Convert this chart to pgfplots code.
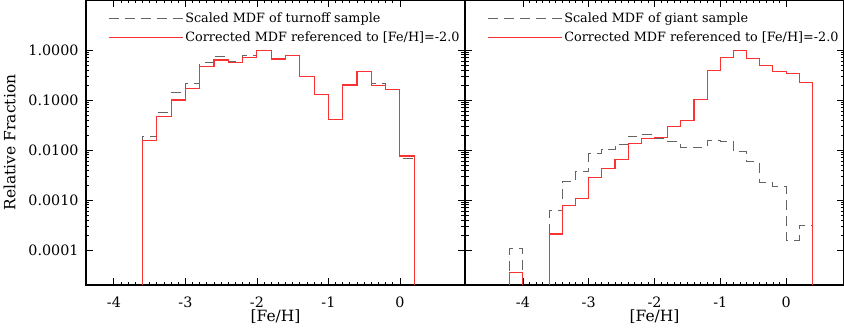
\documentclass[border=0pt]{standalone}
\usepackage{fontspec}
\setmainfont{DejaVu Serif}
\usepackage{pgfplots}
\pgfplotsset{compat=1.18}
\definecolor{mdfred}{RGB}{250,50,50}
\definecolor{mdfgrey}{RGB}{100,100,100}
\tikzset{
 greyline/.style={mdfgrey,line width=0.9pt,dash pattern=on 10pt off 6pt},
 redline/.style={mdfred,line width=1.1pt},
}
\pgfplotsset{
 legend image code/.code={\draw[#1] (0pt,0pt) -- (68pt,0pt);\path (0pt,0pt) -- (74pt,0pt);},
 every axis/.append style={
  scale only axis,width=379pt,height=285pt,
  ymin=2e-5,ymax=10,
  xtick={-4,...,0},minor x tick num=9,
  ytick={1e-4,1e-3,1e-2,1e-1,1},
  tick align=inside,major tick length=7pt,minor tick length=3.5pt,
  every tick/.style={black,line width=0.8pt},
  axis line style={black,line width=1.1pt},
  tick label style={font=\fontsize{14.3}{16}\selectfont},
  xticklabel style={yshift=-8pt},
  yticklabel style={xshift=-4pt},
  label style={font=\fontsize{15.5}{17}\selectfont},
  xlabel style={yshift=4pt},
  ylabel style={yshift=6pt},
  legend cell align=left,
  legend style={at={(0,1)},anchor=north west,xshift=19pt,yshift=-9pt,draw=none,fill=none,
   font=\fontsize{12.8}{14}\selectfont,row sep=3.5pt},
 },
}
\begin{document}
\begin{tikzpicture}
% turnoff sample
\begin{semilogyaxis}[xmin=-4.39,xmax=0.91,
 xlabel={{[Fe/H]}},
 /pgf/number format/assume math mode=true,
 yticklabels={0.0001,0.0010,0.0100,0.1000,1.0000},
 ylabel={Relative Fraction}]
\addlegendimage{greyline}\addlegendentry{Scaled MDF of turnoff sample}
\addlegendimage{redline}\addlegendentry{Corrected MDF referenced to {[Fe/H]}=-2.0}
\addplot[greyline,const plot,forget plot] coordinates {(-3.8,1e-8)(-3.6,0.019)(-3.4,0.057)(-3.2,0.142)(-3.0,0.215)(-2.8,0.56)(-2.6,0.74)(-2.4,0.60)(-2.2,0.77)(-2.0,0.98)(-1.8,0.66)(-1.6,0.77)(-1.4,0.29)(-1.2,0.13)(-1.0,0.040)(-0.8,0.20)(-0.6,0.38)(-0.4,0.21)(-0.2,0.163)(0.0,0.0068)(0.2,1e-8)};
\addplot[redline,const plot,forget plot] coordinates {(-3.8,1e-8)(-3.6,0.0158)(-3.4,0.046)(-3.2,0.100)(-3.0,0.171)(-2.8,0.46)(-2.6,0.63)(-2.4,0.57)(-2.2,0.71)(-2.0,0.98)(-1.8,0.66)(-1.6,0.77)(-1.4,0.29)(-1.2,0.13)(-1.0,0.040)(-0.8,0.20)(-0.6,0.37)(-0.4,0.196)(-0.2,0.163)(0.0,0.0076)(0.2,1e-8)};
\end{semilogyaxis}
% giant sample
\begin{semilogyaxis}[at={(379pt,0pt)},xmin=-4.88,xmax=0.88,
 xlabel={{[Fe/H]}},
 /pgf/number format/assume math mode=true,
 yticklabels={,,,,}]
\addlegendimage{greyline}\addlegendentry{Scaled MDF of giant sample}
\addlegendimage{redline}\addlegendentry{Corrected MDF referenced to {[Fe/H]}=-2.0}
\addplot[greyline,const plot,forget plot] coordinates {(-4.4,1e-8)(-4.2,1.08e-4)(-4.0,1e-8)(-3.6,6.2e-4)(-3.4,2.33e-3)(-3.2,3.69e-3)(-3.0,8.5e-3)(-2.8,0.0104)(-2.6,0.0131)(-2.4,0.019)(-2.2,0.0203)(-2.0,0.017)(-1.8,0.0150)(-1.6,0.0112)(-1.4,0.0115)(-1.2,0.0155)(-1.0,0.0150)(-0.8,0.0093)(-0.6,0.0058)(-0.4,0.00225)(-0.2,0.00185)(0.0,1.58e-4)(0.2,3.16e-4)(0.4,1e-8)};
\addplot[redline,const plot,forget plot] coordinates {(-4.4,1e-8)(-4.2,3.6e-5)(-4.0,1e-8)(-3.6,2.09e-4)(-3.4,7.9e-4)(-3.2,1.08e-3)(-3.0,2.88e-3)(-2.8,4.3e-3)(-2.6,6.4e-3)(-2.4,0.0134)(-2.2,0.0169)(-2.0,0.0179)(-1.8,0.030)(-1.6,0.0386)(-1.4,0.104)(-1.2,0.386)(-1.0,0.71)(-0.8,0.98)(-0.6,0.68)(-0.4,0.49)(-0.2,0.37)(0.0,0.336)(0.2,0.225)(0.4,1e-8)};
\end{semilogyaxis}
\pgfresetboundingbox
\path[use as bounding box] (-86pt,-43pt) rectangle (758pt,285pt);
\end{tikzpicture}
\end{document}
